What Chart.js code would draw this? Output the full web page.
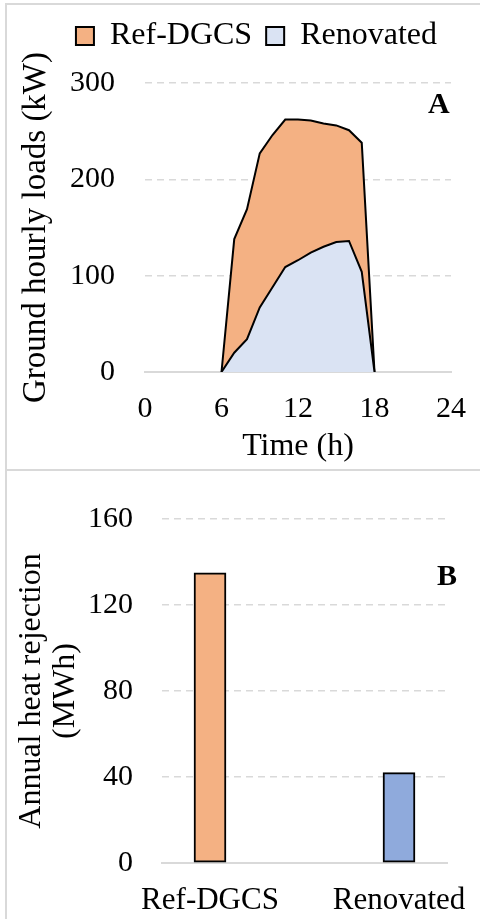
<!DOCTYPE html>
<html lang="en">
<head>
<meta charset="UTF-8">
<title>Ground hourly loads and annual heat rejection</title>
<script src="https://cdn.jsdelivr.net/npm/chart.js"></script>
<style>
  body { margin: 0; background: #fff; width: 480px; height: 919px; overflow: hidden; position: relative; }
  .frame { position: absolute; left: 5px; top: 3px; width: 520px; height: 960px; border-left: 2px solid #d9d9d9; border-top: 2px solid #d9d9d9; }
  .sep { position: absolute; left: 5px; top: 469px; width: 480px; border-top: 2px solid #d9d9d9; }
  #chartA { position: absolute; left: 8px; top: 6px; }
  #chartB { position: absolute; left: 8px; top: 472px; }
  .tag { position: absolute; font: bold 30px/30px "Liberation Serif", serif; color: #000; }
</style>
</head>
<body>
  <div class="frame"></div>
  <div class="sep"></div>
  <canvas id="chartA" width="472" height="463"></canvas>
  <canvas id="chartB" width="472" height="447"></canvas>
  <div class="tag" style="left:428px; top:88px;">A</div>
  <div class="tag" style="left:437px; top:560px;">B</div>
<script>
  // panel A - hourly ground loads (kW)
  const hours = [6, 7, 8, 9, 10, 11, 12, 13, 14, 15, 16, 17, 18];
  const refLoads = [0, 138, 169, 227, 246, 262, 262, 261, 258, 256, 251, 238, 0];
  const renLoads = [0, 20, 34, 67, 88, 109, 116, 124, 130, 135, 136, 104, 0];
  const seriesNames = ['Ref-DGCS', 'Renovated'];
  const hourTicks = [0, 6, 12, 18, 24];
  const loadTicks = [0, 100, 200, 300];

  // panel B - annual heat rejection (MWh)
  const categories = ['Ref-DGCS', 'Renovated'];
  const heatRejection = [135, 42];
  const mwhTicks = [0, 40, 80, 120, 160];

  const orange = '#f4b183';
  const lightBlue = '#dae3f3';
  const barBlue = '#8faadc';
  const gridGray = '#d9d9d9';
  const titleFont = { size: 32 };

  Chart.defaults.font.family = '"Liberation Serif", "Times New Roman", serif';
  Chart.defaults.font.size = 30;
  Chart.defaults.color = '#000';

  const toPoints = (xs, ys) => xs.map((x, i) => ({ x: x, y: ys[i] }));
  const fixTicks = (list) => (scale) => { scale.ticks = list.map(v => ({ value: v })); };
  // fixed axis height, and no extra side padding for the end labels
  const xFit = (h) => (s) => { s.height = h; s.paddingLeft = 0; s.paddingRight = 0; };
  const dashedGrid = {
    drawTicks: false,
    color: (c) => c.tick && c.tick.value === 0 ? 'rgba(0,0,0,0)' : gridGray,
    lineWidth: 1.5
  };

  new Chart(document.getElementById('chartA'), {
    type: 'line',
    data: {
      datasets: [{
        label: seriesNames[0],
        data: toPoints(hours, refLoads),
        backgroundColor: orange,
        borderColor: '#000',
        borderWidth: 2,
        fill: 'origin',
        pointRadius: 0,
        order: 1
      }, {
        label: seriesNames[1],
        data: toPoints(hours, renLoads),
        backgroundColor: lightBlue,
        borderColor: '#000',
        borderWidth: 2,
        fill: 'origin',
        pointRadius: 0,
        order: 0
      }]
    },
    options: {
      responsive: false,
      animation: false,
      layout: { padding: { top: 0, right: 29, left: 0, bottom: 0 } },
      plugins: {
        legend: {
          reverse: true,
          align: 'end',
          labels: { boxWidth: 18, boxHeight: 18, padding: 14, font: titleFont }
        },
        // empty title only used as a spacer under the legend
        title: { display: true, text: '', weight: 500, padding: 0, font: { size: 21, lineHeight: 1 } },
        tooltip: { enabled: false }
      },
      scales: {
        x: {
          type: 'linear',
          min: 0,
          max: 24,
          afterBuildTicks: fixTicks(hourTicks),
          afterFit: xFit(97),
          grid: { display: false, drawTicks: false },
          border: { display: true, color: gridGray, width: 2 },
          ticks: { padding: 19 },
          title: { display: true, text: 'Time (h)', padding: { top: 0, bottom: 3 }, font: titleFont }
        },
        y: {
          min: 0,
          max: 300,
          afterBuildTicks: fixTicks(loadTicks),
          afterFit: (s) => { s.width = 137; },
          grid: dashedGrid,
          border: { display: false, dash: [7, 5] },
          ticks: { padding: 30 },
          title: { display: true, text: 'Ground hourly loads (kW)', padding: { top: 9, bottom: 0 }, font: { size: 33 } }
        }
      }
    }
  });

  new Chart(document.getElementById('chartB'), {
    type: 'bar',
    data: {
      datasets: [{
        data: toPoints(categories.map((c, i) => i), heatRejection),
        backgroundColor: [orange, barBlue],
        borderColor: '#000',
        borderWidth: 2,
        borderSkipped: false,
        barThickness: 32
      }]
    },
    options: {
      responsive: false,
      animation: false,
      layout: { padding: { top: 37, right: 33, left: 0, bottom: 0 } },
      plugins: {
        legend: { display: false },
        tooltip: { enabled: false }
      },
      scales: {
        x: {
          type: 'linear',
          offset: false,
          min: -0.254,
          max: 1.254,
          afterBuildTicks: fixTicks(categories.map((c, i) => i)),
          afterFit: xFit(56),
          grid: { display: false, drawTicks: false, offset: false },
          border: { display: true, color: gridGray, width: 2 },
          ticks: { padding: 19, font: { size: 31 }, callback: (v) => categories[v] }
        },
        y: {
          min: 0,
          max: 160,
          afterBuildTicks: fixTicks(mwhTicks),
          afterFit: (s) => { s.width = 154; },
          grid: dashedGrid,
          border: { display: false, dash: [7, 5] },
          ticks: { padding: 29 },
          title: {
            display: true,
            text: ['Annual heat rejection', '(MWh)'],
            padding: { top: 7, bottom: 0 },
            font: { size: 32, lineHeight: '34px' }
          }
        }
      }
    }
  });
</script>
</body>
</html>
